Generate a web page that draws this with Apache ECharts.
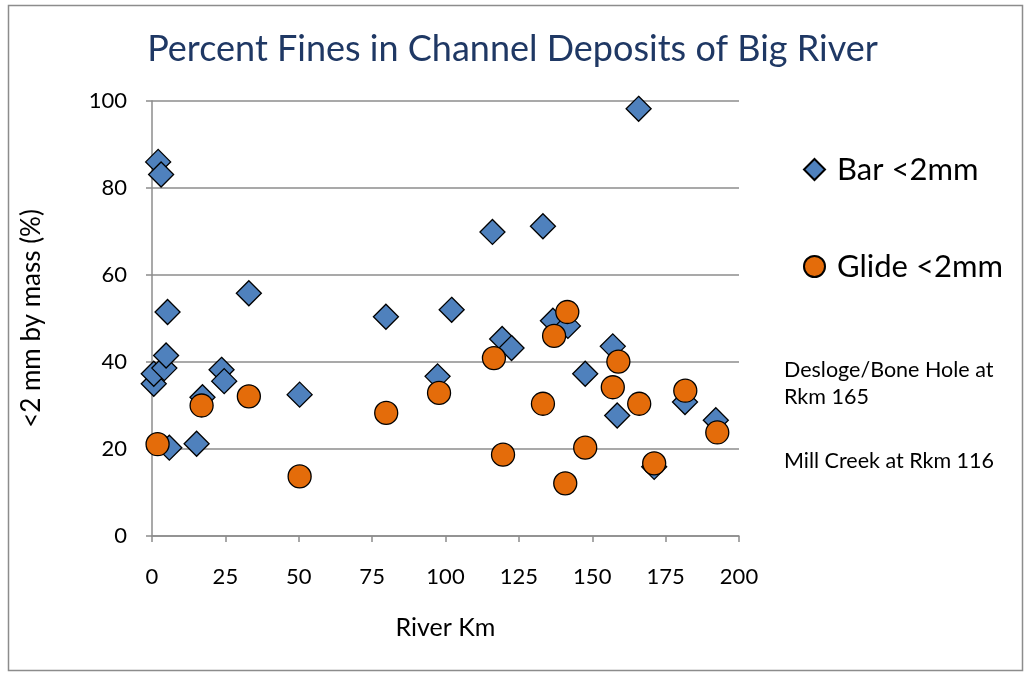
<!DOCTYPE html>
<html lang="en">
<head>
    <meta charset="UTF-8">
    <title>Percent Fines in Channel Deposits of Big River</title>
    <script src="https://cdn.jsdelivr.net/npm/echarts@6.0.0/dist/echarts.min.js"></script>
    <style>
        body { margin: 0; background: #fff; }
        #chart { width: 1025px; height: 673px; }
    </style>
</head>
<body>
    <div id="chart"></div>
    <script>
        // Bar samples: river km / percent < 2 mm
        const barKm  = [0.6, 0.6, 2.1, 3.1, 4.2, 4.8, 5.3, 5.9, 15.2, 17.2, 23.7, 24.6, 33.0, 50.3, 79.7, 97.3, 102.1, 116.0, 119.3, 122.5, 133.2, 136.6, 141.7, 147.6, 157.0, 158.5, 165.8, 171.1, 181.6, 192.1];
        const barPct = [35.0, 37.3, 86.0, 83.1, 38.6, 41.5, 51.5, 20.3, 21.2, 31.9, 38.2, 35.6, 55.8, 32.5, 50.4, 36.7, 52.0, 69.9, 45.3, 43.2, 71.2, 49.5, 48.3, 37.3, 43.6, 27.7, 98.2, 15.9, 30.8, 26.6];
        // Glide samples
        const glideKm  = [1.9, 16.9, 33.0, 50.3, 79.8, 97.8, 116.5, 119.6, 133.2, 137.0, 141.5, 140.8, 147.6, 157.0, 158.9, 166.0, 171.1, 181.7, 192.6];
        const glidePct = [21.1, 30.0, 32.1, 13.7, 28.3, 32.9, 40.9, 18.7, 30.4, 46.0, 51.5, 12.1, 20.3, 34.2, 40.1, 30.4, 16.7, 33.4, 23.8];

        const seriesNames = ['Bar <2mm', 'Glide <2mm'];
        const notes = ['Desloge/Bone Hole at', 'Rkm 165', 'Mill Creek at Rkm 116'];

        const font = 'Lato, "Open Sans", sans-serif';
        const chart = echarts.init(document.getElementById('chart'));

        const option = {
            backgroundColor: '#fff',
            textStyle: { fontFamily: font },
            title: {
                text: 'Percent Fines in Channel Deposits of Big River',
                left: 'center',
                top: 26,
                textStyle: { color: '#1f3864', fontSize: 36, fontWeight: 'normal', fontFamily: font }
            },
            legend: {
                data: seriesNames,
                orient: 'vertical',
                left: 798,
                top: 149,
                itemGap: 66,
                itemWidth: 21,
                itemHeight: 21,
                textStyle: { color: '#000', fontSize: 31, fontFamily: font, padding: [0, 0, 0, 7] }
            },
            grid: { left: 152, right: 286, top: 101, bottom: 137 },
            xAxis: {
                type: 'value',
                min: 0, max: 200, interval: 25,
                name: 'River Km',
                nameLocation: 'middle',
                nameGap: 79,
                nameTextStyle: { color: '#000', fontSize: 25, fontFamily: font },
                axisLine: { show: true, lineStyle: { color: '#8c8c8c', width: 1.5 } },
                axisTick: { show: true, length: 6, lineStyle: { color: '#8c8c8c', width: 1.5 } },
                axisLabel: { color: '#000', fontSize: 22, margin: 30, fontFamily: font },
                splitLine: { show: false }
            },
            yAxis: {
                type: 'value',
                min: 0, max: 100, interval: 20,
                name: '<2 mm by mass (%)',
                nameLocation: 'middle',
                nameGap: 107,
                nameTextStyle: { color: '#000', fontSize: 26, fontFamily: font },
                axisLine: { show: true, lineStyle: { color: '#8c8c8c', width: 1.5 } },
                axisTick: { show: true, length: 6, lineStyle: { color: '#8c8c8c', width: 1.5 } },
                axisLabel: { color: '#000', fontSize: 22, margin: 25, fontFamily: font },
                splitLine: { show: true, lineStyle: { color: '#8c8c8c', width: 1.5 } }
            },
            graphic: [
                {
                    type: 'rect',
                    shape: { x: 8.5, y: 5.5, width: 1014, height: 665 },
                    style: { fill: 'none', stroke: '#8c8c8c', lineWidth: 1.5 },
                    silent: true
                },
                { type: 'text', left: 784, top: 359, style: { text: notes[0], fontSize: 21.5, fontFamily: font, fill: '#000' } },
                { type: 'text', left: 784, top: 386, style: { text: notes[1], fontSize: 21.5, fontFamily: font, fill: '#000' } },
                { type: 'text', left: 784, top: 450, style: { text: notes[2], fontSize: 21.5, fontFamily: font, fill: '#000' } }
            ],
            series: [
                {
                    name: seriesNames[0],
                    type: 'scatter',
                    symbol: 'diamond',
                    symbolSize: 25,
                    data: barKm.map((k, i) => [k, barPct[i]]),
                    itemStyle: { color: '#4f81bd', borderColor: '#000', borderWidth: 1.3, opacity: 1 }
                },
                {
                    name: seriesNames[1],
                    type: 'scatter',
                    symbol: 'circle',
                    symbolSize: 23,
                    data: glideKm.map((k, i) => [k, glidePct[i]]),
                    itemStyle: { color: '#e46c0a', borderColor: '#000', borderWidth: 1.3, opacity: 1 }
                }
            ]
        };
        chart.setOption(option);
    </script>
</body>
</html>
